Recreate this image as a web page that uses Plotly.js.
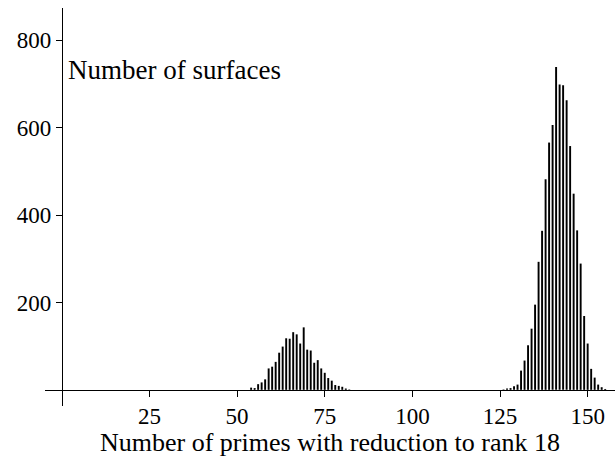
<!DOCTYPE html>
<html>
<head>
<meta charset="utf-8">
<script src="https://cdn.plot.ly/plotly-3.0.1.min.js"></script>
<style>html,body{margin:0;padding:0;background:#fff;}#chart{width:615px;height:457px;}</style>
</head>
<body>
<div id="chart"></div>
<script>
// Number of primes (x) and number of surfaces (y)
const primesLow = [54,55,56,57,58,59,60,61,62,63,64,65,66,67,68,69,70,71,72,73,74,75,76,77,78,79,80,81,82];
const countsLow = [5,4,13,17,24,49,53,64,85,99,118,117,132,127,106,143,92,90,62,68,49,39,27,21,11,9,7,3,1];
const primesHigh = [126,127,128,129,130,131,132,133,134,135,136,137,138,139,140,141,142,143,144,145,146,147,148,149,150,151,152,153,154,155];
const countsHigh = [1,3,4,8,12,44,67,102,140,195,293,364,482,566,606,739,699,697,663,558,449,365,289,169,106,48,28,12,6,2];
const xTickVals = [25,50,75,100,125,150];
const yTickVals = [200,400,600,800];
const xTitle = "Number of primes with reduction to rank 18";
const yLabel = "Number of surfaces";

const xs = primesLow.concat(primesHigh);
const ys = countsLow.concat(countsHigh);

const fam = "Liberation Serif, Times New Roman, serif";
const tickFont = {family: fam, size: 23, color: "#000"};
const titleFont = {family: fam, size: 26, color: "#000"};
const annFont = {family: fam, size: 27, color: "#000"};

const trace = {
  type: "bar",
  x: xs,
  y: ys,
  width: 0.55,
  marker: {color: "#000", line: {width: 0}},
  hoverinfo: "x+y"
};

const layout = {
  width: 615, height: 457,
  margin: {l: 45, r: 0, t: 8, b: 51},
  paper_bgcolor: "#fff", plot_bgcolor: "#fff",
  showlegend: false,
  font: tickFont,
  xaxis: {
    range: [-4.8, 157.8],
    anchor: "free", position: 37/911,
    showline: true, linecolor: "#000", linewidth: 1,
    showgrid: false, zeroline: false,
    tickmode: "array", tickvals: xTickVals, ticktext: xTickVals.map(String),
    ticks: "outside", ticklen: 6, tickwidth: 1, tickcolor: "#000",
    tickfont: tickFont,
    title: {text: xTitle, font: titleFont, standoff: 2}
  },
  yaxis: {
    range: [-37, 874],
    anchor: "free", position: 4.8/162.6,
    showline: true, linecolor: "#000", linewidth: 1,
    showgrid: false, zeroline: false,
    tickmode: "array", tickvals: yTickVals, ticktext: yTickVals.map(String),
    ticks: "outside", ticklen: 6, tickwidth: 1, tickcolor: "#000",
    tickfont: tickFont
  },
  annotations: [{
    text: yLabel, xref: "paper", yref: "paper",
    x: 21/570, y: (406-70)/398, xanchor: "left", yanchor: "middle",
    showarrow: false, font: annFont
  }]
};

Plotly.newPlot("chart", [trace], layout, {staticPlot: true, displayModeBar: false});
</script>
</body>
</html>
